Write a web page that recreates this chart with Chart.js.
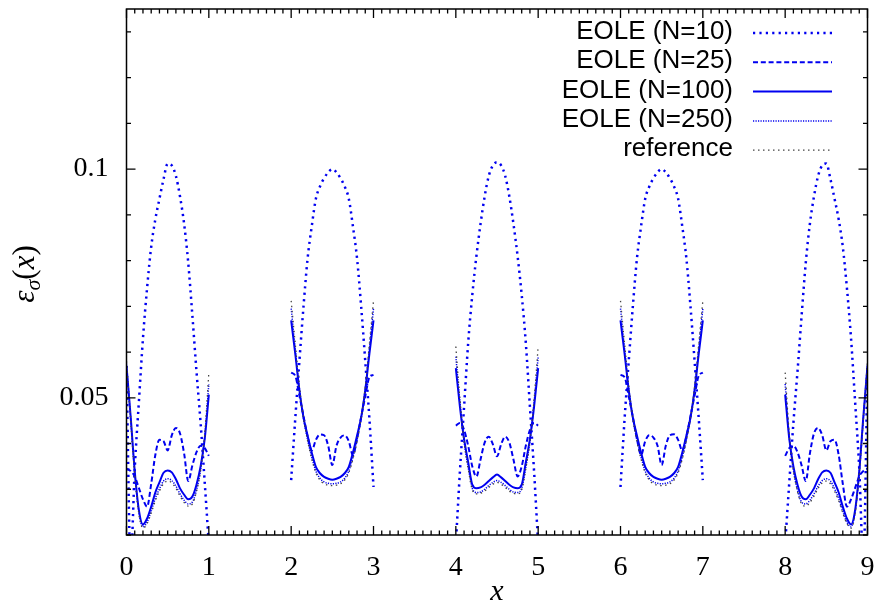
<!DOCTYPE html>
<html>
<head>
<meta charset="utf-8">
<script src="https://cdn.jsdelivr.net/npm/chart.js@4.4.0/dist/chart.umd.min.js"></script>
<style>
    html, body { margin: 0; padding: 0; background: #fff; }
</style>
</head>
<body>
<canvas id="graficoError" width="875" height="601"></canvas>
<script>
// Tramos del dominio (cada uno de longitud 1) y posiciones dentro del tramo
const inicioTramos = [0, 2, 4, 6, 8];
const pasos = [0, 0.05, 0.1, 0.15, 0.2, 0.25, 0.3, 0.35, 0.4, 0.45, 0.5,
               0.55, 0.6, 0.65, 0.7, 0.75, 0.8, 0.85, 0.9, 0.95, 1];

// Etiquetas de los ejes
const ticksX = [0, 1, 2, 3, 4, 5, 6, 7, 8, 9];
const ticksY = [0.05, 0.1];
const etiquetasY = ['0.05', '0.1'];

// Nombres de las series (leyenda)
const nombres = ['EOLE (N=10)', 'EOLE (N=25)', 'EOLE (N=100)', 'EOLE (N=250)', 'reference'];

// Valores, un arreglo por tramo
const eoleN10 = [
    [0.057, 0.014, 0.0345, 0.049, 0.063, 0.074, 0.083, 0.089, 0.0935, 0.0978, 0.1012, 0.1008, 0.0985, 0.094, 0.088, 0.0795, 0.068, 0.0558, 0.0445, 0.0315, 0.018],
    [0.032, 0.0455, 0.058, 0.070, 0.0805, 0.0875, 0.0935, 0.0962, 0.098, 0.0993, 0.1, 0.0993, 0.098, 0.0962, 0.0935, 0.0875, 0.0805, 0.070, 0.058, 0.0455, 0.0305],
    [0.018, 0.034, 0.048, 0.062, 0.0725, 0.081, 0.088, 0.094, 0.0985, 0.1008, 0.1015, 0.1008, 0.0985, 0.094, 0.088, 0.081, 0.0725, 0.062, 0.048, 0.034, 0.018],
    [0.0305, 0.0455, 0.058, 0.070, 0.0805, 0.0875, 0.0935, 0.0962, 0.098, 0.0993, 0.1, 0.0993, 0.098, 0.0962, 0.0935, 0.0875, 0.0805, 0.070, 0.058, 0.0455, 0.032],
    [0.018, 0.0315, 0.0445, 0.0558, 0.068, 0.0795, 0.088, 0.094, 0.0985, 0.1008, 0.1012, 0.0978, 0.0935, 0.089, 0.083, 0.074, 0.063, 0.049, 0.0345, 0.014, 0.057]
];
const eoleN25 = [
    [0.0345, 0.034, 0.0328, 0.0303, 0.0278, 0.0262, 0.0312, 0.0375, 0.0408, 0.0405, 0.0385, 0.0418, 0.0434, 0.0422, 0.0378, 0.0318, 0.0352, 0.0381, 0.0395, 0.039, 0.0373],
    [0.0555, 0.0548, 0.0505, 0.046, 0.0415, 0.0385, 0.0408, 0.042, 0.0418, 0.0395, 0.0353, 0.0395, 0.0413, 0.0418, 0.0405, 0.0375, 0.041, 0.0458, 0.0503, 0.0545, 0.055],
    [0.0439, 0.0445, 0.043, 0.0395, 0.035, 0.0328, 0.0365, 0.0402, 0.0415, 0.0398, 0.0372, 0.0398, 0.0415, 0.0402, 0.0365, 0.0328, 0.035, 0.0395, 0.043, 0.0445, 0.0439],
    [0.055, 0.0545, 0.0503, 0.0458, 0.041, 0.0375, 0.0405, 0.0418, 0.0413, 0.0395, 0.0353, 0.0395, 0.0418, 0.042, 0.0408, 0.0385, 0.0415, 0.046, 0.0505, 0.0548, 0.0555],
    [0.0373, 0.039, 0.0395, 0.0381, 0.0352, 0.0318, 0.0378, 0.0422, 0.0434, 0.0418, 0.0385, 0.0405, 0.0408, 0.0375, 0.0312, 0.0262, 0.0278, 0.0303, 0.0328, 0.034, 0.0345]
];
const eoleN100 = [
    [0.057, 0.046, 0.034, 0.0255, 0.0223, 0.0236, 0.0262, 0.0293, 0.0315, 0.0336, 0.0341, 0.0337, 0.0322, 0.0302, 0.0288, 0.0278, 0.0284, 0.031, 0.035, 0.041, 0.0507],
    [0.0669, 0.0596, 0.0517, 0.0457, 0.0417, 0.038, 0.0349, 0.0335, 0.0327, 0.0323, 0.0321, 0.0323, 0.0327, 0.0335, 0.0349, 0.038, 0.0417, 0.0457, 0.0517, 0.0596, 0.0669],
    [0.0565, 0.048, 0.041, 0.0359, 0.031, 0.0302, 0.0304, 0.031, 0.0318, 0.0326, 0.0332, 0.0326, 0.0318, 0.031, 0.0304, 0.0302, 0.031, 0.0359, 0.041, 0.048, 0.0565],
    [0.0669, 0.0596, 0.0517, 0.0457, 0.0417, 0.038, 0.0349, 0.0335, 0.0327, 0.0323, 0.0321, 0.0323, 0.0327, 0.0335, 0.0349, 0.038, 0.0417, 0.0457, 0.0517, 0.0596, 0.0669],
    [0.0507, 0.041, 0.035, 0.031, 0.0284, 0.0278, 0.0288, 0.0302, 0.0322, 0.0337, 0.0341, 0.0336, 0.0315, 0.0293, 0.0262, 0.0236, 0.0223, 0.0255, 0.034, 0.046, 0.057]
];
const eoleN250 = [
    [0.0575, 0.0455, 0.0335, 0.025, 0.0218, 0.0228, 0.0252, 0.028, 0.0301, 0.0318, 0.0323, 0.0319, 0.0307, 0.029, 0.0276, 0.0268, 0.0272, 0.0298, 0.0342, 0.0415, 0.053],
    [0.0695, 0.0607, 0.052, 0.0455, 0.0408, 0.037, 0.034, 0.0324, 0.0316, 0.0313, 0.0312, 0.0313, 0.0316, 0.0324, 0.034, 0.037, 0.0408, 0.0455, 0.052, 0.0607, 0.0695],
    [0.059, 0.049, 0.0405, 0.0348, 0.0302, 0.0293, 0.0294, 0.030, 0.0308, 0.0315, 0.0319, 0.0315, 0.0308, 0.030, 0.0294, 0.0293, 0.0302, 0.0348, 0.0405, 0.049, 0.059],
    [0.0695, 0.0607, 0.052, 0.0455, 0.0408, 0.037, 0.034, 0.0324, 0.0316, 0.0313, 0.0312, 0.0313, 0.0316, 0.0324, 0.034, 0.037, 0.0408, 0.0455, 0.052, 0.0607, 0.0695],
    [0.053, 0.0415, 0.0342, 0.0298, 0.0272, 0.0268, 0.0276, 0.029, 0.0307, 0.0319, 0.0323, 0.0318, 0.0301, 0.028, 0.0252, 0.0228, 0.0218, 0.025, 0.0335, 0.0455, 0.0575]
];
const referencia = [
    [0.058, 0.0455, 0.0333, 0.0247, 0.0215, 0.0225, 0.0248, 0.0275, 0.0296, 0.0312, 0.0318, 0.0314, 0.0302, 0.0285, 0.0271, 0.0263, 0.0268, 0.0295, 0.0342, 0.042, 0.0555],
    [0.0712, 0.0617, 0.0524, 0.0456, 0.0406, 0.0366, 0.0336, 0.032, 0.0312, 0.0309, 0.0308, 0.0309, 0.0312, 0.032, 0.0336, 0.0366, 0.0406, 0.0456, 0.0524, 0.0617, 0.0712],
    [0.0612, 0.0495, 0.0405, 0.0345, 0.0299, 0.029, 0.0291, 0.0296, 0.0304, 0.0311, 0.0315, 0.0311, 0.0304, 0.0296, 0.0291, 0.029, 0.0299, 0.0345, 0.0405, 0.0495, 0.0612],
    [0.0712, 0.0617, 0.0524, 0.0456, 0.0406, 0.0366, 0.0336, 0.032, 0.0312, 0.0309, 0.0308, 0.0309, 0.0312, 0.032, 0.0336, 0.0366, 0.0406, 0.0456, 0.0524, 0.0617, 0.0712],
    [0.0555, 0.042, 0.0342, 0.0295, 0.0268, 0.0263, 0.0271, 0.0285, 0.0302, 0.0314, 0.0318, 0.0312, 0.0296, 0.0275, 0.0248, 0.0225, 0.0215, 0.0247, 0.0333, 0.0455, 0.058]
];

// Colores y fuentes
const AZUL = '#0000f0';
const GRIS = '#444444';
const FUENTE_SERIF = '"Liberation Serif", "Times New Roman", serif';
const FUENTE_SANS = '"Liberation Sans", Arial, sans-serif';

// Convierte los tramos en puntos {x, y}, con un hueco entre tramos
function armarSerie(valores) {
    const puntos = [];
    inicioTramos.forEach((x0, k) => {
        pasos.forEach((p, j) => puntos.push({ x: x0 + p, y: valores[k][j] }));
        puntos.push({ x: x0 + 1.5, y: null });
    });
    return puntos;
}

function serie(indice, valores, color, ancho, trazo, orden) {
    return {
        label: nombres[indice],
        data: armarSerie(valores),
        borderColor: color,
        borderWidth: ancho,
        borderDash: trazo,
        borderCapStyle: 'butt',
        pointRadius: 0,
        fill: false,
        cubicInterpolationMode: 'monotone',
        order: orden
    };
}

// Quita el relleno automatico que Chart.js agrega por las etiquetas
function sinRelleno(escala) {
    escala.paddingTop = 0;
    escala.paddingBottom = 0;
    escala.paddingLeft = 0;
    escala.paddingRight = 0;
}

// Marco con marcas hacia adentro (estilo gnuplot)
const marcoPlugin = {
    id: 'marco',
    afterDatasetsDraw(chart) {
        const { ctx, chartArea: a, scales } = chart;
        ctx.save();
        ctx.strokeStyle = '#000';
        ctx.lineWidth = 1.3;
        ctx.beginPath();
        for (let i = 0; i <= 90; i++) {
            const px = scales.x.getPixelForValue(i / 10);
            const largo = (i % 10 === 0) ? 9 : 4.5;
            ctx.moveTo(px, a.bottom); ctx.lineTo(px, a.bottom - largo);
            ctx.moveTo(px, a.top); ctx.lineTo(px, a.top + largo);
        }
        for (let i = 2; i <= 13; i++) {
            const py = scales.y.getPixelForValue(i / 100);
            const largo = (i === 5 || i === 10) ? 9 : 4.5;
            ctx.moveTo(a.left, py); ctx.lineTo(a.left + largo, py);
            ctx.moveTo(a.right, py); ctx.lineTo(a.right - largo, py);
        }
        ctx.stroke();
        ctx.lineWidth = 1.5;
        ctx.strokeRect(a.left, a.top, a.right - a.left, a.bottom - a.top);
        ctx.restore();
    }
};

// Leyenda arriba a la derecha: texto alineado a la derecha y muestra de linea
const leyendaPlugin = {
    id: 'leyenda',
    afterDraw(chart) {
        const { ctx } = chart;
        ctx.save();
        chart.data.datasets.forEach((ds, i) => {
            const y = 33 + i * 29.3;
            ctx.font = '26px ' + FUENTE_SANS;
            ctx.fillStyle = '#000';
            ctx.textAlign = 'right';
            ctx.textBaseline = 'middle';
            ctx.fillText(ds.label, 733, y - 1);
            ctx.strokeStyle = ds.borderColor;
            ctx.lineWidth = ds.borderWidth;
            ctx.setLineDash(ds.borderDash || []);
            ctx.beginPath();
            ctx.moveTo(753, y);
            ctx.lineTo(832, y);
            ctx.stroke();
        });
        ctx.restore();
    }
};

// Titulo del eje y: epsilon con subindice sigma
const tituloYPlugin = {
    id: 'tituloY',
    afterDraw(chart) {
        const { ctx, chartArea: a } = chart;
        const partes = [
            ['ε', 'italic 31px ' + FUENTE_SERIF, 0],
            ['σ', 'italic 22px ' + FUENTE_SERIF, 6],
            ['(', '31px ' + FUENTE_SERIF, 0],
            ['x', 'italic 31px ' + FUENTE_SERIF, 0],
            [')', '31px ' + FUENTE_SERIF, 0]
        ];
        ctx.save();
        ctx.translate(34, (a.top + a.bottom) / 2 + 2);
        ctx.rotate(-Math.PI / 2);
        ctx.fillStyle = '#000';
        ctx.textBaseline = 'alphabetic';
        let total = 0;
        partes.forEach(p => { ctx.font = p[1]; total += ctx.measureText(p[0]).width; });
        let x = -total / 2;
        partes.forEach(p => {
            ctx.font = p[1];
            ctx.fillText(p[0], x, p[2]);
            x += ctx.measureText(p[0]).width;
        });
        ctx.restore();
    }
};

const ctx = document.getElementById('graficoError').getContext('2d');

new Chart(ctx, {
    type: 'line',
    data: {
        datasets: [
            serie(0, eoleN10, AZUL, 2.5, [2.2, 4.2], 5),
            serie(1, eoleN25, AZUL, 2, [5, 2.8], 4),
            serie(2, eoleN100, AZUL, 2, [], 3),
            serie(3, eoleN250, AZUL, 1.5, [1.2, 1.3], 2),
            serie(4, referencia, GRIS, 1.3, [1.5, 3.5], 1)
        ]
    },
    options: {
        responsive: false,
        animation: false,
        events: [],
        devicePixelRatio: 1,
        layout: {
            autoPadding: false,
            padding: { left: 0, right: 7.5, top: 9, bottom: 0 }
        },
        plugins: {
            legend: { display: false },
            tooltip: { enabled: false }
        },
        scales: {
            x: {
                type: 'linear',
                min: 0,
                max: 9,
                afterBuildTicks: s => { s.ticks = ticksX.map(v => ({ value: v })); },
                afterFit: s => { s.height = 66; sinRelleno(s); },
                grid: { display: false, drawTicks: false },
                border: { display: false },
                ticks: {
                    autoSkip: false,
                    maxRotation: 0,
                    padding: 16,
                    color: '#000',
                    font: { family: FUENTE_SERIF, size: 28 },
                    callback: v => String(v)
                },
                title: {
                    display: true,
                    text: 'x',
                    color: '#000',
                    padding: { top: 0, bottom: -6 },
                    font: { family: FUENTE_SERIF, size: 30, style: 'italic', lineHeight: 1 }
                }
            },
            y: {
                type: 'linear',
                min: 0.02,
                max: 0.135,
                afterBuildTicks: s => { s.ticks = ticksY.map(v => ({ value: v })); },
                afterFit: s => { s.width = 126.5; sinRelleno(s); },
                grid: { display: false, drawTicks: false },
                border: { display: false },
                ticks: {
                    padding: 18,
                    color: '#000',
                    font: { family: FUENTE_SERIF, size: 28 },
                    callback: v => etiquetasY[ticksY.indexOf(v)]
                }
            }
        }
    },
    plugins: [marcoPlugin, leyendaPlugin, tituloYPlugin]
});
</script>
</body>
</html>
